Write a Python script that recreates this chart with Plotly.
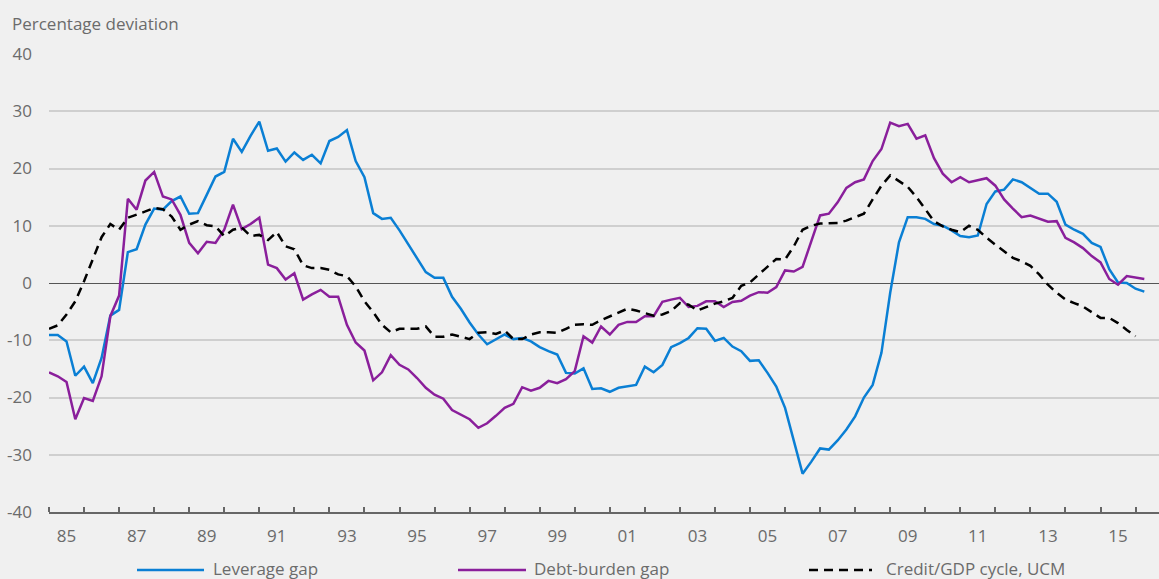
import plotly.graph_objects as go

start_year = 1985
leverage_gap = [
    -9.1, -9.1, -10.2, -16.2, -14.6, -17.5, -13.1, -5.7, -4.7, 5.4, 5.9, 10.2, 13.0, 12.8, 14.3, 15.1, 12.1, 12.2, 15.4, 18.6, 19.4, 25.2,
    22.9, 25.7, 28.2, 23.1, 23.5, 21.2, 22.8, 21.5, 22.4, 20.9, 24.8, 25.5, 26.7, 21.3, 18.5, 12.2, 11.2, 11.4, 9.2, 6.8,
    4.5, 1.9, 0.9, 0.9, -2.4, -4.5, -6.9, -9.0, -10.7, -9.9, -9.0, -9.8, -9.6, -10.2, -11.2, -11.9, -12.5, -15.7, -15.8, -14.9, -18.5,
    -18.4, -19.0, -18.3, -18.1, -17.8, -14.6, -15.6, -14.3, -11.2, -10.5, -9.6, -7.9, -8.0, -10.1, -9.6, -11.1, -11.9, -13.6, -13.5, -15.7, -18.1,
    -21.8, -27.4, -33.3, -31.2, -28.9, -29.1, -27.5, -25.6, -23.3, -20.0, -17.8, -12.2, -1.7, 7.1, 11.5, 11.5, 11.2, 10.3, 10.0, 9.2, 8.2,
    8.0, 8.3, 13.8, 16.0, 16.3, 18.1, 17.6, 16.6, 15.6, 15.6, 14.2, 10.2, 9.3, 8.6, 7.0, 6.3, 2.4, 0.1, 0.0, -1.0, -1.5,
]
debt_burden_gap = [
    -15.6, -16.3, -17.3, -23.8, -20.1, -20.6, -16.3, -5.8, -2.2, 14.7, 12.8, 17.9, 19.4, 15.1, 14.6, 11.9, 7.0, 5.2, 7.2, 7.0, 9.3, 13.7,
    9.4, 10.3, 11.4, 3.2, 2.6, 0.6, 1.7, -2.9, -2.0, -1.2, -2.4, -2.4, -7.3, -10.4, -11.8, -17.0, -15.6, -12.6, -14.3, -15.1,
    -16.6, -18.3, -19.5, -20.2, -22.2, -23.0, -23.8, -25.3, -24.5, -23.2, -21.8, -21.1, -18.2, -18.8, -18.3, -17.1, -17.5, -16.8, -15.4, -9.3, -10.4,
    -7.6, -9.0, -7.3, -6.8, -6.8, -5.8, -5.8, -3.3, -2.9, -2.6, -4.2, -4.0, -3.2, -3.2, -4.2, -3.3, -3.1, -2.2, -1.6, -1.7, -0.7,
    2.2, 2.0, 2.8, 7.3, 11.8, 12.1, 14.1, 16.6, 17.6, 18.1, 21.3, 23.4, 28.0, 27.4, 27.8, 25.2, 25.8, 21.8, 19.1, 17.6, 18.5,
    17.6, 17.9, 18.3, 17.0, 14.6, 13.0, 11.5, 11.8, 11.2, 10.7, 10.8, 7.9, 7.1, 6.1, 4.7, 3.6, 0.7, -0.3, 1.2, 0.9, 0.7,
]
credit_gdp_cycle = [
    -8.0, -7.4, -5.5, -3.2, 0.3, 4.1, 8.0, 10.3, 9.3, 11.4, 11.9, 12.5, 13.1, 12.9, 11.6, 9.3, 10.2, 10.8, 10.1, 9.9, 8.2, 9.3,
    9.7, 8.2, 8.4, 7.5, 8.9, 6.4, 5.9, 3.1, 2.6, 2.6, 2.3, 1.5, 1.2, -0.6, -3.2, -5.1, -7.3, -8.6, -8.0, -8.0,
    -8.0, -7.6, -9.4, -9.4, -9.0, -9.4, -9.8, -8.7, -8.6, -8.9, -8.3, -9.8, -9.8, -9.0, -8.6, -8.6, -8.7, -8.0, -7.3, -7.2, -7.3,
    -6.5, -5.8, -5.2, -4.5, -4.8, -5.2, -5.7, -5.5, -4.9, -3.5, -3.8, -4.8, -4.2, -3.6, -3.2, -2.6, -0.5, 0.1, 1.5, 2.9, 4.2,
    4.1, 6.4, 9.3, 10.0, 10.4, 10.4, 10.5, 10.9, 11.5, 12.1, 14.6, 17.0, 18.8, 17.8, 16.8, 15.0, 12.8, 10.8, 9.9, 9.3, 8.9,
    10.0, 9.3, 7.9, 6.7, 5.5, 4.4, 3.8, 3.0, 1.5, -0.3, -1.7, -2.9, -3.5, -4.1, -5.1, -6.1, -6.1, -7.0, -8.2, -9.3,
]
tick_years = list(range(1985, 2016, 2))
tick_labels = [f"{y % 100:02d}" for y in tick_years]
y_ticks = list(range(-40, 41, 10))
y_tick_labels = [str(v) for v in y_ticks]
series_names = ["Leverage gap", "Debt-burden gap", "Credit/GDP cycle, UCM"]

def quarters(n):
    return [start_year + i / 4 for i in range(n)]

BLUE = "#0a7fd4"
PURPLE = "#8a1f9b"
BLACK = "#000000"
GREY_TXT = "#6b6b6b"
BG = "#f0f0f0"
FONT = "Open Sans"

W, H = 1159, 579
L, R, T, B = 49, 0, 54, 67
pw, ph = W - L - R, H - T - B

def px_x(px):
    return (px - L) / pw

def px_y(py):
    return (H - B - py) / ph

fig = go.Figure()
fig.add_trace(go.Scatter(x=quarters(len(leverage_gap)), y=leverage_gap, mode="lines",
                         name=series_names[0], line=dict(color=BLUE, width=2.5)))
fig.add_trace(go.Scatter(x=quarters(len(debt_burden_gap)), y=debt_burden_gap, mode="lines",
                         name=series_names[1], line=dict(color=PURPLE, width=2.5)))
fig.add_trace(go.Scatter(x=quarters(len(credit_gdp_cycle)), y=credit_gdp_cycle, mode="lines",
                         name=series_names[2], line=dict(color=BLACK, width=2.5, dash="9px,6px")))

fig.update_layout(
    width=W, height=H,
    margin=dict(l=L, r=R, t=T, b=B, autoexpand=False),
    paper_bgcolor=BG, plot_bgcolor=BG,
    showlegend=False,
    font=dict(family=FONT, size=17, color=GREY_TXT),
)
fig.update_xaxes(
    range=[1985, 1985 + pw / 35.05],
    tickmode="array", tickvals=[y + 0.5 for y in tick_years], ticktext=tick_labels,
    ticks="", showgrid=False, zeroline=False,
    showline=True, linecolor="#666666", linewidth=1.5,
    tickfont=dict(size=17, color=GREY_TXT), ticklabelstandoff=8,
    minor=dict(tickvals=list(range(1985, 2017)), ticks="inside", ticklen=5,
               tickcolor="#666666", tickwidth=1.5, showgrid=False),
)
fig.update_yaxes(
    range=[-40, 40], tickmode="array", tickvals=y_ticks, ticktext=y_tick_labels,
    showgrid=True, gridcolor="#cfcfcf", gridwidth=1.5,
    zeroline=True, zerolinecolor="#555555", zerolinewidth=1.2,
    showline=False, ticks="", tickfont=dict(size=17, color=GREY_TXT),
    ticklabelstandoff=16,
)

fig.add_annotation(text="Percentage deviation", xref="paper", yref="paper",
                   x=px_x(10), y=px_y(23), xanchor="left", yanchor="middle",
                   showarrow=False, font=dict(size=17, color=GREY_TXT))

legend_items = [
    (series_names[0], BLUE, "solid", 137, 204, 211),
    (series_names[1], PURPLE, "solid", 458, 526, 532),
    (series_names[2], BLACK, "9px,6px", 809, 872, 884),
]
ly = 570
for name, col, dash, x0, x1, xt in legend_items:
    fig.add_shape(type="line", xref="paper", yref="paper",
                  x0=px_x(x0), x1=px_x(x1), y0=px_y(ly), y1=px_y(ly),
                  line=dict(color=col, width=2.5, dash=dash))
    fig.add_annotation(text=name, xref="paper", yref="paper",
                       x=px_x(xt), y=px_y(568.5), xanchor="left", yanchor="middle",
                       showarrow=False, font=dict(size=17, color=GREY_TXT))

fig.write_html("out.html", config={"displayModeBar": False},
               post_script="document.body.style.margin='0';document.body.style.overflow='hidden';")
